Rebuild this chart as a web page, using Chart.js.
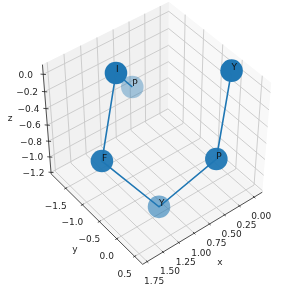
<!DOCTYPE html>
<html><head><meta charset="utf-8">
<style>html,body{margin:0;padding:0;background:#fff;overflow:hidden}#w{position:absolute;left:0;top:0;width:299px;height:297px}</style>
<script src="https://cdn.jsdelivr.net/npm/chart.js@4"></script></head>
<body><div id="w"><canvas id="c" width="299" height="297"></canvas></div>
<script>
const residues=["P","I","F","Y","P","Y"];
const xValues=[1.105,1.107,1.172,1.086,-0.041,-0.03];
const yValues=[-0.787,-1.23,-1.615,-0.104,-0.38,-0.084];
const zValues=[0.00,0.00,-1.20,-1.20,-1.20,0.00];
const pointAlpha=[0.38,1,0.95,0.58,0.95,1];
const xTicks=[0,0.25,0.5,0.75,1,1.25,1.5,1.75];
const yTicks=[-1.5,-1,-0.5,0,0.5];
const zTicks=[0,-0.2,-0.4,-0.6,-0.8,-1,-1.2];
const xTickLabels=["0.00","0.25","0.50","0.75","1.00","1.25","1.50","1.75"];
const yTickLabels=["\u22121.5","\u22121.0","\u22120.5","0.0","0.5"];
const zTickLabels=["0.0","\u22120.2","\u22120.4","\u22120.6","\u22120.8","\u22121.0","\u22121.2"];
const xLim=[-0.14,1.82],yLim=[-1.95,0.72],zLim=[-1.22,0.11];

const rad=Math.PI/180,elev=44.3*rad,azim=51.8*rad,dist=34,box=[4,4,3.9];
const cx=156,cy=130.5,scale=39.1;
function cross(a,b){return[a[1]*b[2]-a[2]*b[1],a[2]*b[0]-a[0]*b[2],a[0]*b[1]-a[1]*b[0]]}
function norm(a){const n=Math.hypot(...a);return a.map(v=>v/n)}
function dot(a,b){return a[0]*b[0]+a[1]*b[1]+a[2]*b[2]}
const W=[Math.cos(elev)*Math.cos(azim),Math.cos(elev)*Math.sin(azim),Math.sin(elev)];
const U=norm(cross([0,0,1],W)),V=cross(W,U);
function proj(x,y,z){
  const p=[(x-xLim[0])/(xLim[1]-xLim[0])*box[0]-box[0]/2,(y-yLim[0])/(yLim[1]-yLim[0])*box[1]-box[1]/2,(z-zLim[0])/(zLim[1]-zLim[0])*box[2]-box[2]/2];
  const d=p.map((v,i)=>v-W[i]*dist);
  const zv=-dot(d,W);
  return{x:cx+scale*dist*dot(d,U)/zv,y:cy-scale*dist*dot(d,V)/zv};
}
const seg=(a,b,color,width,extra)=>Object.assign({type:'scatter',showLine:true,data:[proj(...a),proj(...b)],borderColor:color,borderWidth:width,pointRadius:0,fill:false,order:50},extra||{});
const poly=(pts,color)=>({type:'scatter',showLine:true,data:pts.map(p=>proj(...p)).concat([proj(...pts[0])]),borderColor:'rgba(0,0,0,0)',borderWidth:0,backgroundColor:color,pointRadius:0,fill:'shape',order:60,tension:0});
const [x0,x1]=xLim,[y0,y1]=yLim,[z0,z1]=zLim;
const ds=[];
ds.push(poly([[x0,y0,z0],[x1,y0,z0],[x1,y1,z0],[x0,y1,z0]],'rgb(245,245,245)'));
ds.push(poly([[x0,y0,z0],[x1,y0,z0],[x1,y0,z1],[x0,y0,z1]],'rgb(241,241,241)'));
ds.push(poly([[x0,y0,z0],[x0,y1,z0],[x0,y1,z1],[x0,y0,z1]],'rgb(248,248,248)'));
const grid='rgb(200,200,200)';
xTicks.forEach(t=>{ds.push(seg([t,y1,z0],[t,y0,z0],grid,0.9));ds.push(seg([t,y0,z0],[t,y0,z1],grid,0.9));});
yTicks.forEach(t=>{ds.push(seg([x1,t,z0],[x0,t,z0],grid,0.9));ds.push(seg([x0,t,z0],[x0,t,z1],grid,0.9));});
zTicks.forEach(t=>{ds.push(seg([x1,y0,t],[x0,y0,t],grid,0.9));ds.push(seg([x0,y0,t],[x0,y1,t],grid,0.9));});
const ax='#222';
ds.push(seg([x0,y1,z0],[x1,y1,z0],ax,0.8,{order:40}));
ds.push(seg([x1,y0,z0],[x1,y1,z0],ax,0.8,{order:40}));
ds.push(seg([x1,y0,z0],[x1,y0,z1],ax,0.8,{order:40}));
const dxT=(x1-x0)*0.012,dyT=(y1-y0)*0.012;
xTicks.forEach(t=>ds.push(seg([t,y1-dyT,z0],[t,y1+dyT,z0],ax,0.8,{order:40})));
yTicks.forEach(t=>ds.push(seg([x1-dxT,t,z0],[x1+dxT,t,z0],ax,0.8,{order:40})));
zTicks.forEach(t=>ds.push(seg([x1-dxT,y0+dyT,t],[x1+dxT,y0-dyT,t],ax,0.8,{order:40})));
ds.push({type:'scatter',showLine:true,data:residues.map((r,i)=>proj(xValues[i],yValues[i],zValues[i])),borderColor:'#1f77b4',borderWidth:1.6,pointRadius:0,fill:false,order:0,tension:0});
const drawOrder=residues.map((r,i)=>i).sort((a,b)=>pointAlpha[a]-pointAlpha[b]);
drawOrder.forEach((i,k)=>{ds.push({type:'scatter',data:[proj(xValues[i],yValues[i],zValues[i])],pointRadius:11.3,pointHoverRadius:11.3,pointBorderWidth:0,pointBackgroundColor:'rgba(31,119,180,'+pointAlpha[i]+')',order:10-k*0.1});});

const textPlugin={id:'labels',afterDatasetsDraw(ch){
  const c=ch.ctx,sx=ch.scales.x,sy=ch.scales.y;
  const put=(txt,px,py,al,bl)=>{c.textAlign=al||'center';c.textBaseline=bl||'middle';c.fillText(txt,sx.getPixelForValue(px),sy.getPixelForValue(py));};
  c.save();c.font='9px "DejaVu Sans"';c.fillStyle='#262626';
  xTicks.forEach((t,i)=>{const p=proj(t,y1,z0);put(xTickLabels[i],p.x+7,p.y+20);});
  yTicks.forEach((t,i)=>{const p=proj(x1,t,z0);put(yTickLabels[i],p.x-10,p.y+18);});
  zTicks.forEach((t,i)=>{const p=proj(x1,y0,t);put(zTickLabels[i],p.x-17.5,p.y+1);});
  put('x',220,263);put('y',75,250);put('z',10,119);
  c.fillStyle='#111';
  residues.forEach((r,i)=>{const p=proj(xValues[i],yValues[i],zValues[i]);put(r,p.x,p.y-0.5,'left','alphabetic');});
  c.restore();
}};
new Chart(document.getElementById('c'),{type:'scatter',data:{datasets:ds},plugins:[textPlugin],options:{
  responsive:false,animation:false,layout:{padding:0,autoPadding:false},
  plugins:{legend:{display:false},tooltip:{enabled:false}},
  scales:{x:{type:'linear',min:0,max:299,display:false},y:{type:'linear',min:0,max:297,reverse:true,display:false}}
}});
</script></body></html>
